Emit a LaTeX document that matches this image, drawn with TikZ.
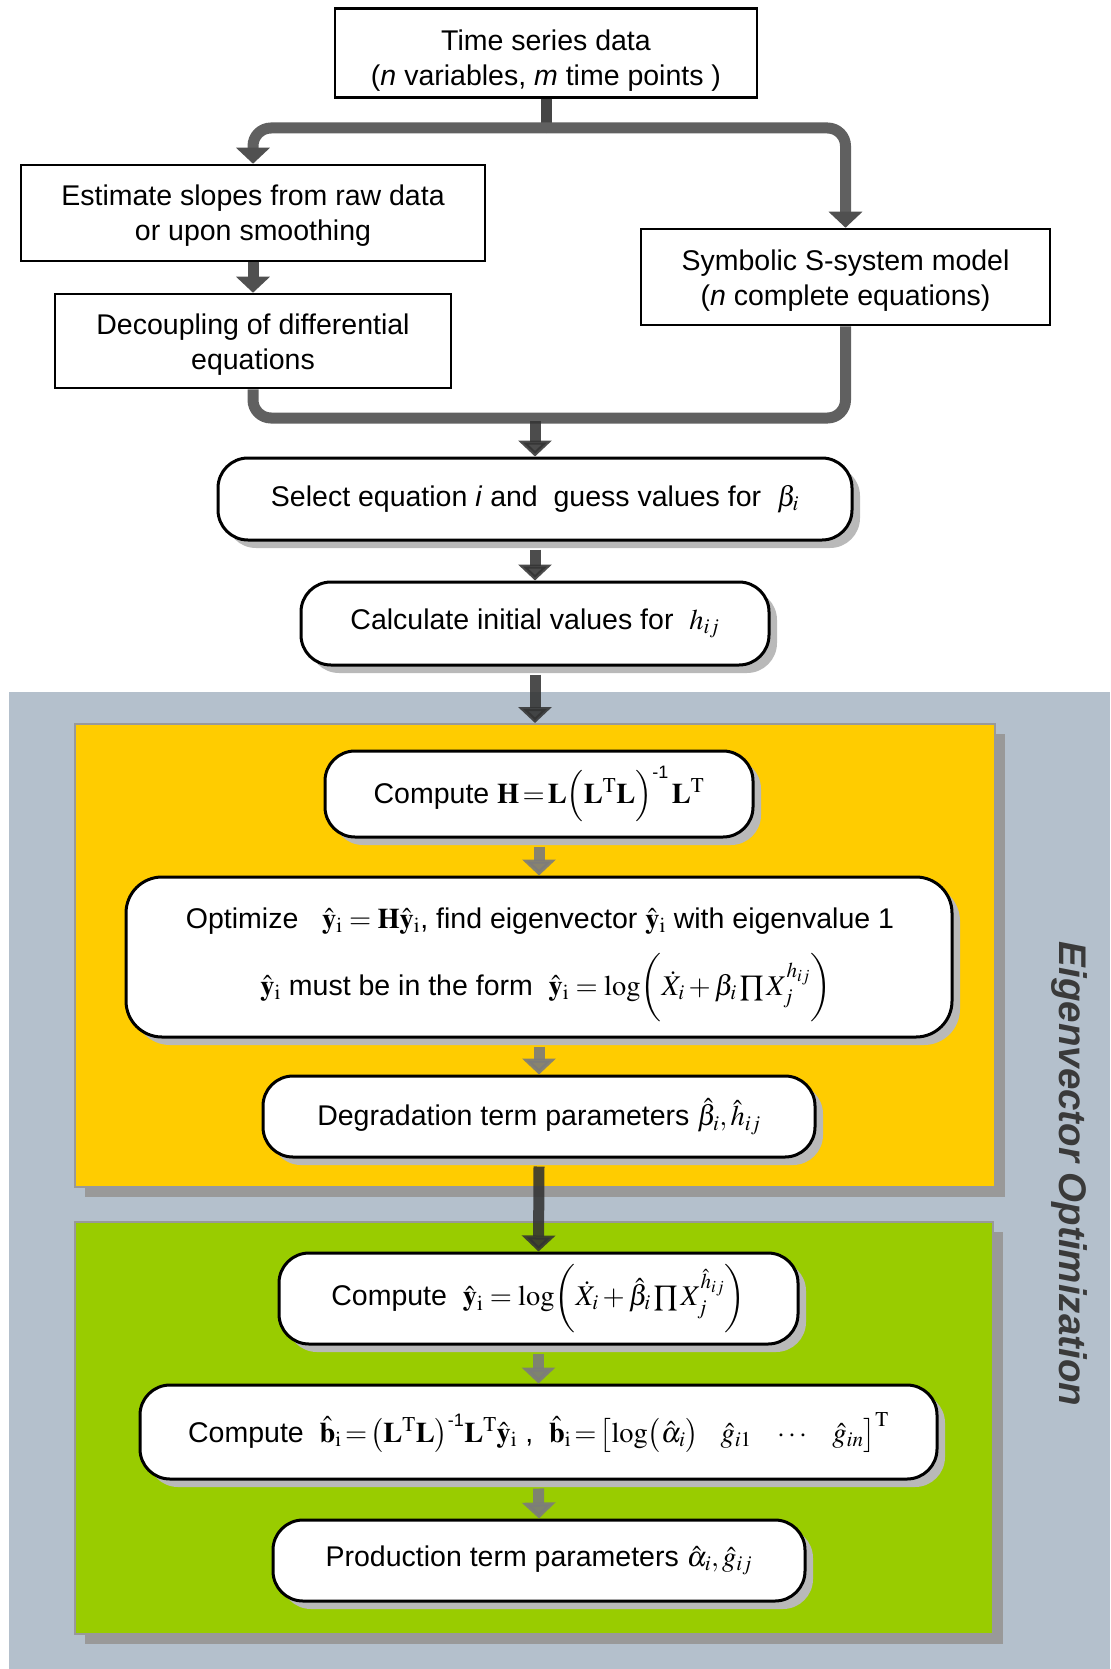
\documentclass[tikz,border=0pt]{standalone}
\usepackage{mathptmx}
\usepackage[no-math]{fontspec}
\setmainfont{Liberation Sans}
\usetikzlibrary{arrows.meta,shadows,calc}

\definecolor{panelgray}{HTML}{B4C0CC}
\definecolor{stageyellow}{HTML}{FFCC00}
\definecolor{stagegreen}{HTML}{99CC00}
\definecolor{forkgray}{HTML}{606060}
\definecolor{stubgray}{HTML}{454545}
\definecolor{tipgray}{HTML}{505050}
\definecolor{boxshadow}{HTML}{B9B9B9}
\definecolor{frameshadow}{HTML}{999999}
\definecolor{titlegray}{HTML}{3A3A3A}
\definecolor{flowdark}{HTML}{333333}
\definecolor{flowsoft}{HTML}{7C7C7C}

\newcommand\yhat{\hat{\mathbf{y}}_{\mathrm{i}}}
\newcommand\bhat{\hat{\mathbf{b}}_{\mathrm{i}}}
\newcommand\TT{\mathrm{T}}
\newcommand\minusone{{\mbox{\fontsize{18}{18}\selectfont\rmfamily -1}}}
% invisible strut that lowers the text block inside a framed box
\newcommand\lift[1]{\rule{0pt}{#1}}
% tighter relation spacing for the matrix formulas
\newcommand\tightrel{\thickmuskip=2mu plus 1mu\medmuskip=2mu}

\tikzset{
  plainbox/.style={draw=black, line width=2.5pt, fill=white, align=center, inner sep=0pt},
  roundbox/.style={draw=black, line width=3pt, fill=white, rounded corners=30pt,
    align=center, inner sep=0pt,
    drop shadow={shadow xshift=8pt, shadow yshift=-8pt, fill=boxshadow, opacity=1}},
  stage/.style={draw=frameshadow, line width=2pt, inner sep=0pt,
    drop shadow={shadow xshift=10pt, shadow yshift=-10pt, fill=frameshadow, opacity=1}},
  tiphead/.style={-{Triangle[width=33pt,length=16pt]}},
  fork/.style={draw=forkgray, line width=11pt, rounded corners=18pt},
  forkarrow/.style={fork, -{Triangle[width=33pt,length=16pt,color=tipgray]}},
  stub/.style={draw=stubgray, line width=11pt},
  midflow/.style={draw=tipgray, line width=11pt, tiphead},
  darkflow/.style={draw=flowdark, line width=11pt, opacity=.88, tiphead},
  softflow/.style={draw=flowsoft, line width=11pt, opacity=.9, tiphead},
}

\begin{document}
\begin{tikzpicture}[x=1pt, y=-1pt, font=\fontsize{28.5}{35}\selectfont]
\useasboundingbox (0,0) rectangle (1110,1669);

% backdrop of the optimisation stage
\fill[panelgray] (8.5,692) rectangle (1110,1669);

% coloured sub-stages
\node[stage, fill=stageyellow, minimum width=920pt, minimum height=463pt] (stageA) at (535,955.5) {};
\node[stage, fill=stagegreen, minimum width=918pt, minimum height=412pt] (stageB) at (534,1428) {};

% preparation steps
\node[plainbox, minimum width=422pt, minimum height=89pt] (data) at (546,53)
  {\lift{35pt}Time series data\\(\textit{n} variables, \textit{m} time points )};
\node[plainbox, minimum width=464pt, minimum height=96pt] (slopes) at (253,213)
  {\lift{26pt}Estimate slopes from raw data\\or upon smoothing};
\node[plainbox, minimum width=396pt, minimum height=94pt] (decouple) at (253,341)
  {\lift{27pt}Decoupling of differential\\equations};
\node[plainbox, minimum width=409pt, minimum height=96pt] (symbolic) at (845.5,277)
  {\lift{27pt}Symbolic S-system model\\(\textit{n} complete equations)};

\node[roundbox, minimum width=634pt, minimum height=82pt] (select) at (535,499)
  {Select equation \textit{i} and\ \ guess values for\ \ $\beta_i$};
\node[roundbox, minimum width=468pt, minimum height=83pt] (initial) at (535,623.5)
  {Calculate initial values for\ \ $h_{ij}$};

% degradation stage
\node[roundbox, minimum width=428pt, minimum height=86pt] (hmat) at (539,794)
  {Compute $\tightrel\mathbf{H}=\mathbf{L}\Bigl(\mathbf{L}^{\TT}\mathbf{L}\Bigr)^{\minusone}\,\mathbf{L}^{\TT}$};
\node[roundbox, rounded corners=36pt, minimum width=826pt, minimum height=160pt] (optimize) at (539,957) {};
\node[anchor=base, inner sep=0pt] (optA) at (540,928)
  {Optimize\ \ \ $\yhat=\mathbf{H}\yhat$, find eigenvector\ $\yhat$\ with eigenvalue 1};
\node[anchor=base, inner sep=0pt] (optB) at (546,995)
  {$\yhat$ must be in the form\ \ $\yhat=\log\biggl(\dot X_i+\beta_i\prod X_j^{h_{ij}}\biggr)$};
\node[roundbox, minimum width=552pt, minimum height=81pt] (degrad) at (539,1116.5)
  {Degradation term parameters $\hat\beta_i,\hat h_{ij}$};

% production stage
\node[roundbox, minimum width=519pt, minimum height=91pt] (logy) at (538.5,1298.5)
  {Compute\ \ $\yhat=\log\biggl(\dot X_i+\hat\beta_i\prod X_j^{\hat h_{ij}}\biggr)$};
\node[roundbox, minimum width=797pt, minimum height=94pt] (bvec) at (538.5,1432)
  {Compute\ \ $\tightrel\bhat=\bigl(\mathbf{L}^{\TT}\mathbf{L}\bigr)^{\minusone}\mathbf{L}^{\TT}\yhat$\ ,\ \ $\tightrel\bhat=\bigl[\log\bigl(\hat\alpha_i\bigr)\mskip14mu\hat g_{i1}\mskip14mu\cdots\mskip14mu\hat g_{in}\bigr]^{\TT}$};
\node[roundbox, minimum width=532pt, minimum height=81pt] (produce) at (539,1560.5)
  {Production term parameters $\hat\alpha_i,\hat g_{ij}$};

% stage title
\node[rotate=-90, text=titlegray, font=\fontsize{38.5}{42}\selectfont\bfseries\itshape] (title)
  at (1069,1174) {Eigenvector Optimization};

% fork and merge of the preparation branches
\coordinate (split) at (546,128);
\coordinate (join) at (535,418);
\draw[stub] (data.south) -- ($(split)+(0,-5)$);
\draw[forkarrow] (split) -| (slopes.north);
\draw[forkarrow] (split) -| (symbolic.north);
\draw[fork] (decouple.south) |- (join) -| (symbolic.south);
\draw[midflow] (slopes.south) -- (decouple.north);

% main flow
\draw[darkflow] ($(join)+(0,3)$) -- (select.north);
\draw[darkflow] ($(select.south)+(0,8)$) -- (initial.north);
\draw[darkflow] ($(initial.south)+(0,8)$) -- (initial.south |- stageA.north);
\draw[softflow] ($(hmat.south)+(0,8)$) -- (optimize.north);
\draw[softflow] ($(optimize.south)+(0,8)$) -- (degrad.north);
\draw[darkflow] ($(degrad.south)+(0,8)$) -- (logy.north);
\draw[softflow] ($(logy.south)+(0,8)$) -- (bvec.north);
\draw[softflow] ($(bvec.south)+(0,8)$) -- (produce.north);
\end{tikzpicture}
\end{document}
